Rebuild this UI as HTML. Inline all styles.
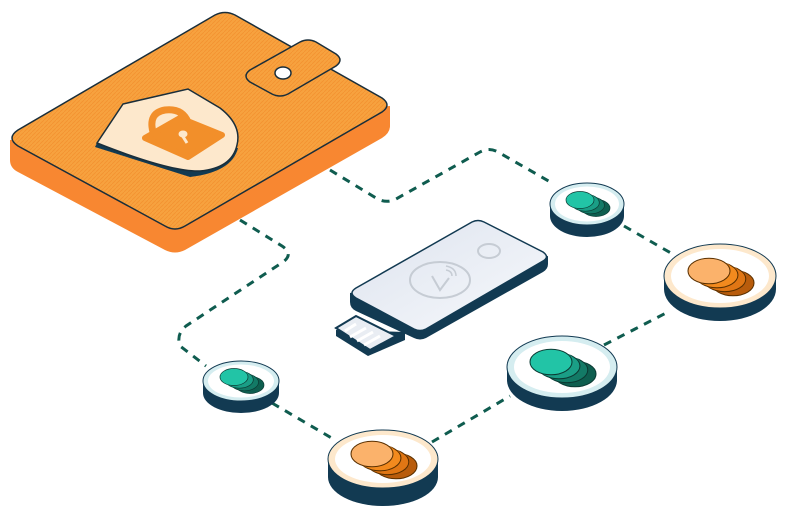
<!DOCTYPE html>
<html><head><meta charset="utf-8"><style>html,body{margin:0;padding:0;background:#fff}svg{display:block}</style></head>
<body>
<svg width="800" height="511" viewBox="0 0 800 511" xmlns="http://www.w3.org/2000/svg">
<defs>
<pattern id="tex" width="4" height="4" patternUnits="userSpaceOnUse"><rect width="4" height="4" fill="#f7a23f"/><path d="M0 4L4 0" stroke="#f39230" stroke-width="0.8"/></pattern>
<linearGradient id="usb" x1="0" y1="0" x2="1" y2="1"><stop offset="0" stop-color="#dde3ee"/><stop offset="1" stop-color="#f7f9fc"/></linearGradient>
<g id="gs" stroke-width="0.7">
<ellipse cx="16" cy="8" rx="14" ry="8.5" fill="#0e5e4f" stroke="#0b3a33"/>
<ellipse cx="13" cy="6.5" rx="14" ry="8.5" fill="#0e5e4f"/>
<ellipse cx="10.5" cy="5.3" rx="14" ry="8.5" fill="#137a66" stroke="#0b3a33"/>
<ellipse cx="8" cy="4" rx="14" ry="8.5" fill="#137a66"/>
<ellipse cx="5.3" cy="2.7" rx="14" ry="8.5" fill="#1a9e86" stroke="#0b3a33"/>
<ellipse cx="2.6" cy="1.3" rx="14" ry="8.5" fill="#1a9e86"/>
<ellipse cx="0" cy="0" rx="14" ry="8.5" fill="#22c4a6" stroke="#0b3a33"/>
</g>
<g id="os" stroke-width="0.7">
<ellipse cx="16" cy="8" rx="14" ry="8.5" fill="#b85c0c" stroke="#5a3000"/>
<ellipse cx="13" cy="6.5" rx="14" ry="8.5" fill="#b85c0c"/>
<ellipse cx="10.5" cy="5.3" rx="14" ry="8.5" fill="#e07614" stroke="#5a3000"/>
<ellipse cx="8" cy="4" rx="14" ry="8.5" fill="#e07614"/>
<ellipse cx="5.3" cy="2.7" rx="14" ry="8.5" fill="#f28a1e" stroke="#5a3000"/>
<ellipse cx="2.6" cy="1.3" rx="14" ry="8.5" fill="#f28a1e"/>
<ellipse cx="0" cy="0" rx="14" ry="8.5" fill="#fbb26b" stroke="#5a3000"/>
</g>
</defs>
<g fill="none" stroke="#0f5c4f" stroke-width="3" stroke-dasharray="8 7">
<path d="M330 170 L376 198 Q386 204 396 199 L480 152 Q489 147 498 152 L552 183"/>
<path d="M240 220 L282 246 Q294 254 283 262 L186 326 Q176 334 180 346 L206 366"/>
<path d="M272 403 L335 440"/>
<path d="M432 442 L510 396"/>
<path d="M604 345 L668 312"/>
<path d="M624 226 L676 256"/>
</g>
<path d="M10 140 L10 160 Q10 168 18 172 L165 250 Q175 255 185 250 L382 138 Q390 133 390 126 L390 106 Z" fill="#f88731"/>
<path d="M18 130 L215 15 Q225 10 235 15 L382 98 Q392 105 382 112 L185 226 Q175 232 165 226 L18 146 Q6 138 18 130 Z" fill="url(#tex)" stroke="#1a2e3a" stroke-width="1.5"/>
<path d="M250 70 L300 42 Q308 38 316 42 L336 54 Q344 60 336 66 L288 94 Q280 98 272 94 L250 82 Q242 76 250 70 Z" fill="url(#tex)" stroke="#1a2e3a" stroke-width="1.5"/>
<ellipse cx="283" cy="73" rx="8" ry="6" fill="#fff" stroke="#1a2e3a" stroke-width="1.5"/>
<path d="M95 147 L190 177 Q232 172 238 148 L97 143 Z" fill="#123a52"/>
<path d="M123 104 L188 89 L220 108 Q242 125 237 145 Q232 168 200 171 Q170 172 97 143 Z" fill="#fde8cc" stroke="#1a2e3a" stroke-width="1.5"/>
<path d="M153 132 Q148 113 165 110 Q182 108 188 122" fill="none" stroke="#f28f2a" stroke-width="7"/>
<path d="M145 138 L180 118 L222 135 L188 157 Z" fill="#f28f2a" stroke="#f28f2a" stroke-width="6" stroke-linejoin="round"/>
<ellipse cx="183" cy="134" rx="4.5" ry="3.5" fill="#fde8cc"/><path d="M182 135 L187 143" stroke="#fde8cc" stroke-width="3"/>
<path d="M336 330 L336 336 L368 356 L405 340 L405 332 Z" fill="#123a52"/>
<path d="M336 328 L356 316 L396 336 L370 350 Z" fill="#e9edf3" stroke="#123a52" stroke-width="2"/>
<g stroke="#fff" stroke-width="3"><path d="M345 331 L356 324"/><path d="M350 337 L366 328"/><path d="M357 341 L373 332"/><path d="M364 345 L380 336"/></g>
<path d="M350 293 L350 302 Q350 308 356 311 L414 338 Q420 341 426 338 L543 272 Q548 269 548 264 L548 256 Z" fill="#123a52"/>
<path d="M356 288 L472 222 Q478 219 484 222 L543 252 Q550 257 543 261 L426 329 Q420 332 414 329 L356 298 Q348 293 356 288 Z" fill="url(#usb)" stroke="#123a52" stroke-width="1.5"/>
<ellipse cx="440" cy="280" rx="30" ry="18" fill="none" stroke="#c6ccd4" stroke-width="2"/>
<path d="M432 276 L440 290 L449 278" fill="none" stroke="#c6ccd4" stroke-width="2"/>
<path d="M446 270 Q452 271 452 276 M446 266 Q456 268 456 276" fill="none" stroke="#c6ccd4" stroke-width="1.5"/>
<ellipse cx="489" cy="251" rx="11" ry="7" fill="none" stroke="#c6ccd4" stroke-width="2"/>
<g>
<rect x="203" y="381" width="76" height="12" fill="#123a52"/><ellipse cx="241" cy="393" rx="38" ry="20" fill="#123a52"/>
<ellipse cx="241" cy="381" rx="38" ry="20" fill="#d5edf0" stroke="#123a52" stroke-width="1"/>
<ellipse cx="241" cy="381" rx="33" ry="16.5" fill="#fff"/>
<use href="#gs" transform="translate(234,377)"/>
</g>
<g>
<rect x="550" y="204" width="74" height="12" fill="#123a52"/><ellipse cx="587" cy="216" rx="37" ry="21" fill="#123a52"/>
<ellipse cx="587" cy="204" rx="37" ry="21" fill="#d5edf0" stroke="#123a52" stroke-width="1"/>
<ellipse cx="587" cy="204" rx="32" ry="17.5" fill="#fff"/>
<use href="#gs" transform="translate(580,200)"/>
</g>
<g>
<rect x="664" y="276" width="112" height="13" fill="#123a52"/><ellipse cx="720" cy="289" rx="56" ry="32" fill="#123a52"/>
<ellipse cx="720" cy="276" rx="56" ry="32" fill="#fde8cc" stroke="#123a52" stroke-width="1"/>
<ellipse cx="720" cy="276" rx="49" ry="27" fill="#fff"/>
<use href="#os" transform="translate(709,271) scale(1.5)"/>
</g>
<g>
<rect x="507" y="367" width="110" height="13" fill="#123a52"/><ellipse cx="562" cy="380" rx="55" ry="31" fill="#123a52"/>
<ellipse cx="562" cy="367" rx="55" ry="31" fill="#d5edf0" stroke="#123a52" stroke-width="1"/>
<ellipse cx="562" cy="367" rx="48" ry="26" fill="#fff"/>
<use href="#gs" transform="translate(551,362) scale(1.5)"/>
</g>
<g>
<rect x="328" y="459" width="110" height="18" fill="#123a52"/><ellipse cx="383" cy="477" rx="55" ry="29" fill="#123a52"/>
<ellipse cx="383" cy="459" rx="55" ry="29" fill="#fde8cc" stroke="#123a52" stroke-width="1"/>
<ellipse cx="383" cy="459" rx="48" ry="24" fill="#fff"/>
<use href="#os" transform="translate(372,454) scale(1.5)"/>
</g>
</svg>
</body></html>
